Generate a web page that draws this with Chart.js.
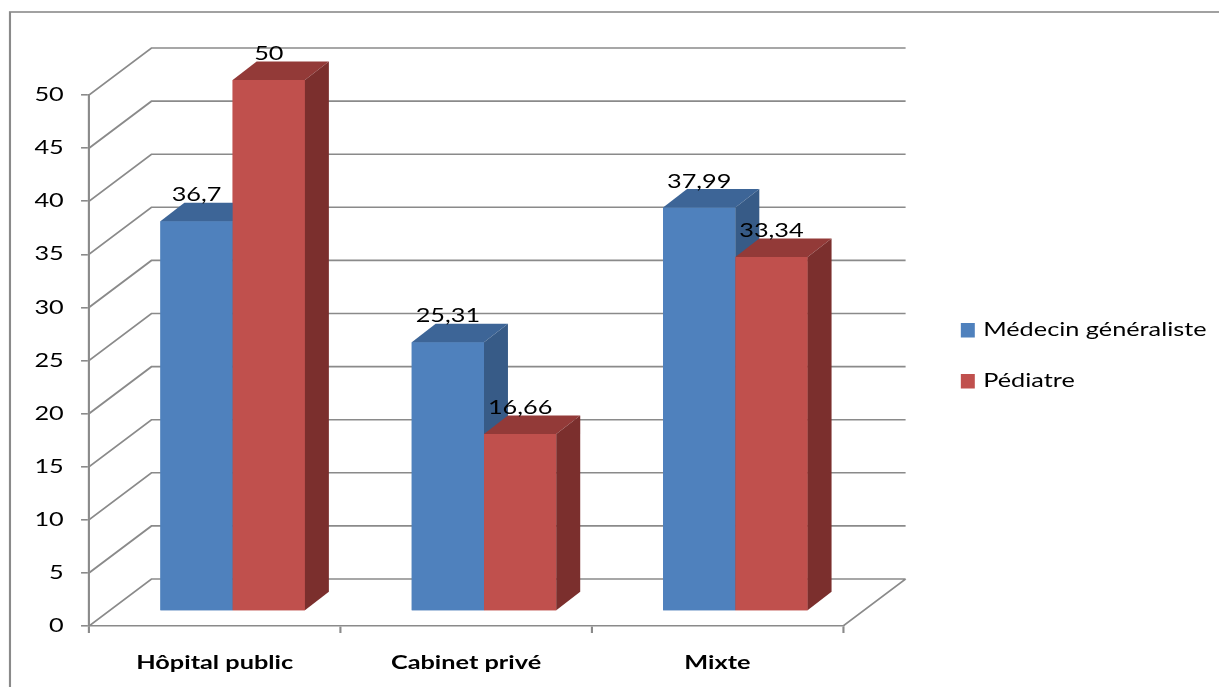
<!DOCTYPE html>
<html>
<head>
<meta charset="utf-8">
<script src="https://cdn.jsdelivr.net/npm/chart.js@4.4.1/dist/chart.umd.min.js"></script>
<style>
  html, body { margin: 0; padding: 0; background: #fff; overflow: hidden; }
  #wrap { width: 1219px; height: 687px; }
</style>
</head>
<body>
<div id="wrap"><canvas id="c" width="1219" height="687"></canvas></div>
<script>
// ---- data ----
const categories = ['Hôpital public', 'Cabinet privé', 'Mixte'];
const seriesNames = ['Médecin généraliste', 'Pédiatre'];
const generaliste = [36.7, 25.31, 37.99];
const pediatre = [50, 16.66, 33.34];
const yTicks = { min: 0, max: 50, step: 5 };

// ---- style ----
const SX = 1219 / 916;               // wide, horizontally stretched drawing
const FONT = 'Lato, "Open Sans", sans-serif';
const GRID = '#8a8a8a';
const WALL = { dx: 47, dy: -47 };    // depth of the back wall
const SHIFT = { dx: 13.5, dy: -15 }; // bars sit in the middle of the floor
const DEPTH = { dx: 18, dy: -18.5 }; // depth of each bar
const faces = [
  { front: '#4F81BD', top: '#3D6597', side: '#375B87' },
  { front: '#C0504D', top: '#933A38', side: '#7B2F2D' }
];

const fmt = v => String(v).replace('.', ',');

const scene = {
  id: 'scene',
  beforeDraw(chart) {
    const ctx = chart.ctx;
    ctx.save();
    ctx.scale(SX, 1);
    // outer frame
    ctx.save();
    ctx.strokeStyle = '#8a8a8a';
    ctx.lineWidth = 1.6;
    ctx.strokeRect(7.5, 12, 1000, 800);
    ctx.restore();
  },
  beforeDatasetsDraw(chart) {
    const ctx = chart.ctx, a = chart.chartArea, y = chart.scales.y;
    ctx.save();
    ctx.strokeStyle = GRID;
    ctx.lineWidth = 1.6;
    ctx.beginPath();
    y.ticks.forEach(t => {
      const py = y.getPixelForValue(t.value);
      ctx.moveTo(a.left, py);
      ctx.lineTo(a.left + WALL.dx, py + WALL.dy);
      ctx.lineTo(a.right + WALL.dx, py + WALL.dy);
    });
    const p0 = y.getPixelForValue(0);
    ctx.moveTo(a.right, p0);
    ctx.lineTo(a.right + WALL.dx, p0 + WALL.dy);
    ctx.stroke();
    ctx.restore();
    // bars are drawn a little behind the front plane
    ctx.save();
    ctx.translate(SHIFT.dx, SHIFT.dy);
  },
  afterDatasetsDraw(chart) {
    const ctx = chart.ctx;
    // solid boxes, first series first so the next one hides its side
    chart.data.datasets.forEach((ds, i) => {
      const f = faces[i];
      chart.getDatasetMeta(i).data.forEach(bar => {
        bar.draw(ctx);
        const { x, y, base, width } = bar.getProps(['x', 'y', 'base', 'width'], true);
        const l = x - width / 2, r = x + width / 2;
        ctx.fillStyle = f.top;
        ctx.beginPath();
        ctx.moveTo(l, y);
        ctx.lineTo(l + DEPTH.dx, y + DEPTH.dy);
        ctx.lineTo(r + DEPTH.dx, y + DEPTH.dy);
        ctx.lineTo(r, y);
        ctx.closePath();
        ctx.fill();
        ctx.fillStyle = f.side;
        ctx.beginPath();
        ctx.moveTo(r, y);
        ctx.lineTo(r + DEPTH.dx, y + DEPTH.dy);
        ctx.lineTo(r + DEPTH.dx, base + DEPTH.dy);
        ctx.lineTo(r, base);
        ctx.closePath();
        ctx.fill();
      });
    });
    // value labels
    ctx.fillStyle = '#000';
    ctx.font = '19px ' + FONT;
    ctx.textAlign = 'center';
    ctx.textBaseline = 'middle';
    chart.data.datasets.forEach((ds, i) => {
      chart.getDatasetMeta(i).data.forEach((bar, j) => {
        ctx.fillText(fmt(ds.data[j]), bar.x, bar.y - 26);
      });
    });
    ctx.restore();
    // legend
    const rows = [330, 381];
    chart.data.datasets.forEach((ds, i) => {
      ctx.fillStyle = ds.backgroundColor;
      ctx.fillRect(722, rows[i] - 7, 10.5, 14.5);
      ctx.fillStyle = '#000';
      ctx.font = '19px ' + FONT;
      ctx.textAlign = 'left';
      ctx.textBaseline = 'middle';
      ctx.fillText(ds.label, 738.8, rows[i]);
    });
  },
  afterDraw(chart) {
    chart.ctx.restore();
  }
};

new Chart(document.getElementById('c'), {
  type: 'bar',
  data: {
    labels: categories,
    datasets: [
      { label: seriesNames[0], data: generaliste, backgroundColor: faces[0].front },
      { label: seriesNames[1], data: pediatre, backgroundColor: faces[1].front }
    ]
  },
  options: {
    responsive: false,
    animation: false,
    devicePixelRatio: 1,
    layout: { padding: { left: 0, top: 95, right: 1219 - 633.5, bottom: 0 } },
    datasets: { bar: { categoryPercentage: 0.575, barPercentage: 1, borderWidth: 0, clip: false } },
    plugins: { legend: { display: false }, tooltip: { enabled: false } },
    scales: {
      x: {
        grid: { drawOnChartArea: false, drawTicks: true, tickLength: 7, color: GRID, lineWidth: 1.6, offset: true },
        border: { display: true, color: GRID, width: 1.6 },
        ticks: { color: '#000', font: { family: FONT, size: 19, weight: 'bold' }, padding: 18, maxRotation: 0 },
        afterFit(s) { s.height = 61; }
      },
      y: {
        min: yTicks.min, max: yTicks.max,
        ticks: { stepSize: yTicks.step, color: '#000', font: { family: FONT, size: 19 }, padding: 13 },
        grid: { drawOnChartArea: false, drawTicks: true, tickLength: 6, color: GRID, lineWidth: 1.6 },
        border: { display: true, color: GRID, width: 1.6 },
        afterFit(s) { s.width = 66.9; }
      }
    }
  },
  plugins: [scene]
});
</script>
</body>
</html>
